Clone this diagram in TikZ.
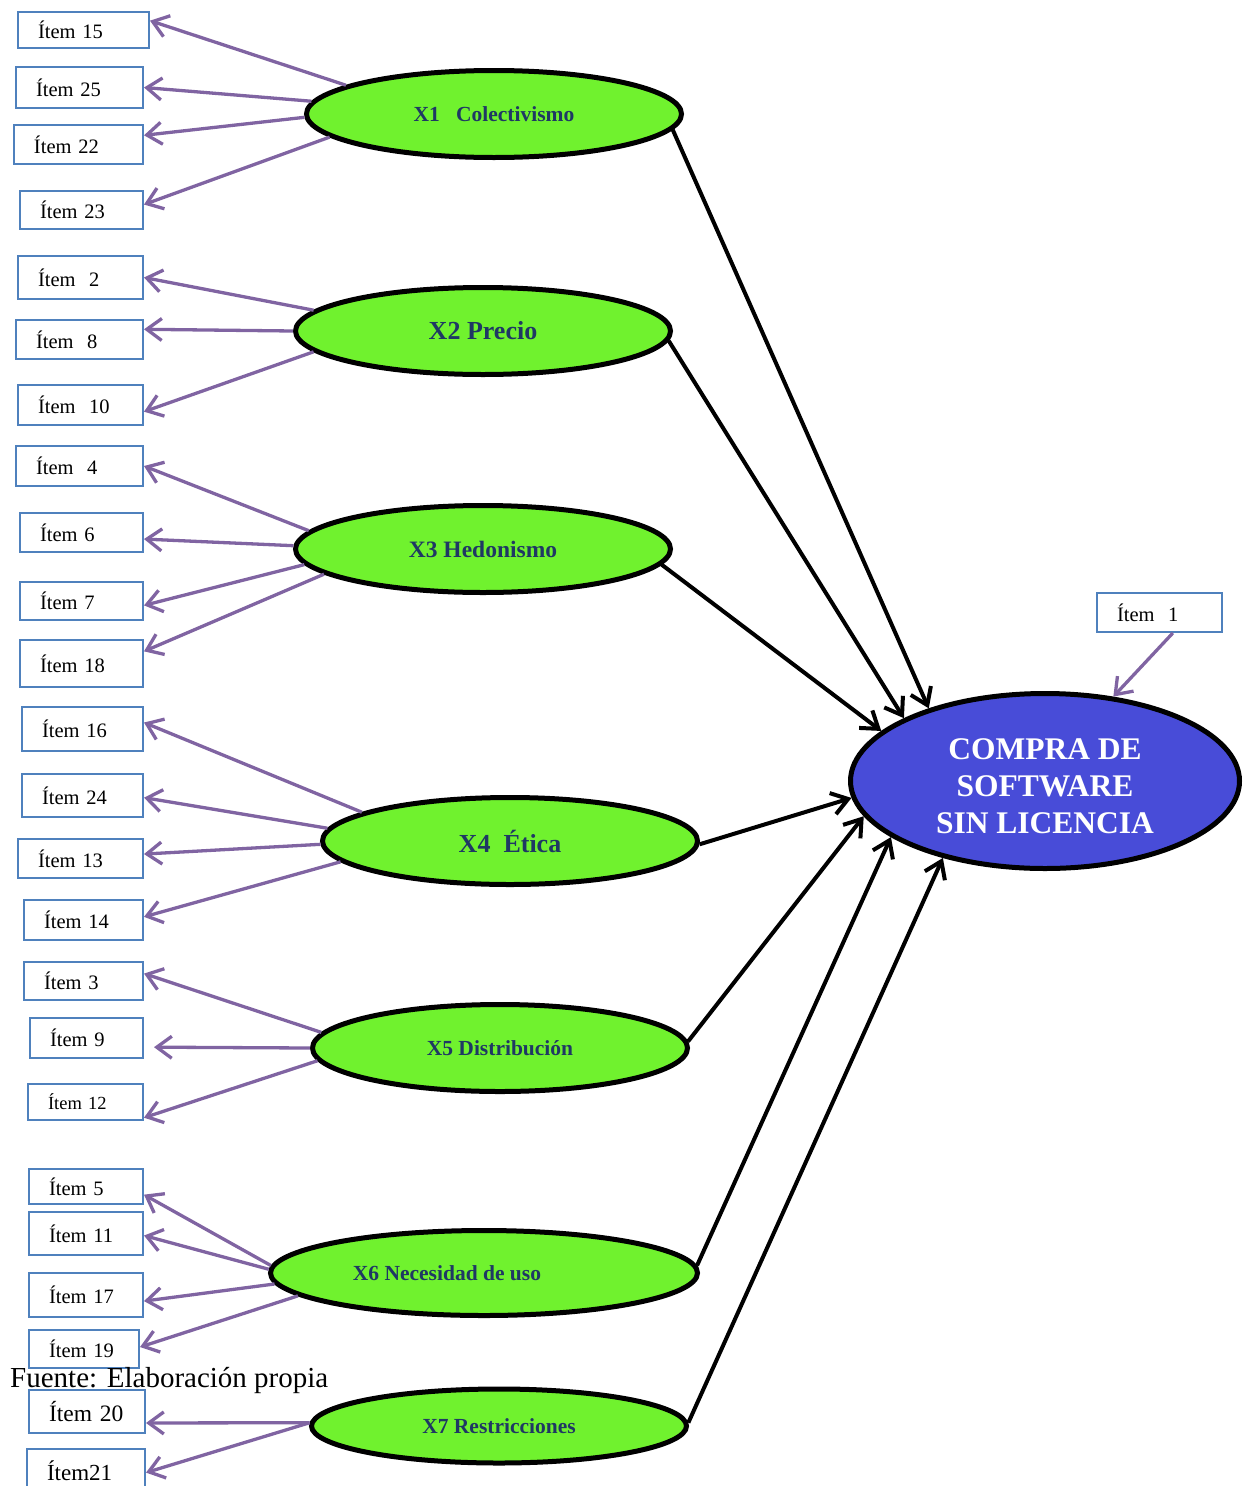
\documentclass[tikz,border=0pt]{standalone}
\usepackage{fontspec}
\setmainfont{Liberation Serif}
\usetikzlibrary{shapes.geometric,arrows.meta}
\definecolor{verdelat}{RGB}{112,242,46}
\definecolor{azulmain}{RGB}{72,76,216}
\definecolor{azultexto}{RGB}{31,56,100}
\definecolor{morado}{RGB}{128,100,162}
\definecolor{azulcaja}{RGB}{79,129,189}

\begin{document}
\begin{tikzpicture}[x={(1pt,0pt)}, y={(0pt,-1pt)},
    item/.style={draw=azulcaja, line width=2pt, fill=white, anchor=north west, inner xsep=20pt, inner ysep=0pt,
        text width=#1, align=left, minimum height=41pt, font=\fontsize{20.5}{24}\selectfont},
    item/.default=85pt,
    latente/.style={ellipse, draw=black, line width=5pt, fill=verdelat, minimum width=375pt, minimum height=87pt,
        inner sep=0pt, text=azultexto, font=\bfseries\fontsize{21.5}{24}\selectfont},
    carga/.style={morado, line width=3.3pt, -{Straight Barb[length=15pt,width=22pt]}},
    efecto/.style={black, line width=4pt, -{Straight Barb[length=16pt,width=22pt]}}]

    \useasboundingbox (0,0) rectangle (1245,1486);

    % Items de X1
    \node[item=91pt, minimum height=36pt] (i15) at (17,11) {Ítem 15};
    \node[item=87pt] (i25) at (15,66) {Ítem 25};
    \node[item=89pt, minimum height=39pt] (i22) at (13,124) {Ítem 22};
    \node[item=83pt, minimum height=38pt] (i23) at (19,190) {Ítem 23};

    % Items de X2
    \node[item=85pt, minimum height=43pt] (i2) at (17,255) {Ítem~~2};
    \node[item=87pt, minimum height=39pt] (i8) at (15,319) {Ítem~~8};
    \node[item=85pt, minimum height=40pt] (i10) at (17,384) {Ítem~~10};

    % Items de X3
    \node[item=87pt, minimum height=40pt] (i4) at (15,445) {Ítem~~4};
    \node[item=83pt, minimum height=39pt] (i6) at (19,512) {Ítem 6};
    \node[item=83pt, minimum height=38pt] (i7) at (19,581) {Ítem 7};
    \node[item=83pt, minimum height=47pt] (i18) at (19,639) {Ítem 18};

    % Items de X4
    \node[item=81pt, minimum height=44pt] (i16) at (21,706) {Ítem 16};
    \node[item=81pt, minimum height=43pt] (i24) at (21,773) {Ítem 24};
    \node[item=85pt, minimum height=39pt] (i13) at (17,838) {Ítem 13};
    \node[item=79pt, minimum height=40pt] (i14) at (23,899) {Ítem 14};

    % Items de X5
    \node[item=79pt, minimum height=38pt] (i3) at (23,961) {Ítem 3};
    \node[item=73pt, minimum height=40pt] (i9) at (29,1017) {Ítem 9};
    \node[item=75pt, minimum height=36pt, font=\fontsize{18.5}{22}\selectfont] (i12) at (27,1083) {Ítem 12};

    % Items de X6
    \node[item=74pt, minimum height=35pt] (i5) at (28,1168) {Ítem 5};
    \node[item=74pt, minimum height=43pt] (i11) at (28,1211) {Ítem 11};
    \node[item=74pt, minimum height=44pt] (i17) at (28,1272) {Ítem 17};
    \node[item=70pt, minimum height=38pt] (i19) at (28,1329) {Ítem 19};

    % Items de X7
    \node[item=76pt, minimum height=43pt, font=\fontsize{23.5}{27}\selectfont] (i20) at (28,1389) {Ítem 20};
    \node[item=78pt, minimum height=43pt, font=\fontsize{23}{27}\selectfont] (i21) at (26,1448) {Ítem21};

    % Item de la variable dependiente
    \node[item=85pt, minimum height=39pt] (i1) at (1096,592) {Ítem~~1};

    % Variables latentes
    \node[latente] (x1) at (494,114) {X1~~~Colectivismo};
    \node[latente, font=\bfseries\fontsize{26}{30}\selectfont] (x2) at (483,331) {X2 Precio};
    \node[latente, font=\bfseries\fontsize{23.5}{27}\selectfont] (x3) at (483,549) {X3 Hedonismo};
    \node[latente, font=\bfseries\fontsize{26}{30}\selectfont] (x4) at (510,841) {X4~~Ética};
    \node[latente] (x5) at (500,1048) {X5 Distribución};
    \node[latente, minimum width=427pt, minimum height=85pt] (x6) at (484,1273) {X6 Necesidad de uso\hspace*{74pt}};
    \node[latente, minimum height=74pt] (x7) at (499,1426) {X7 Restricciones};

    % Variable dependiente
    \node[latente, fill=azulmain, text=white, minimum width=389pt, minimum height=175pt, align=center,
        font=\bfseries\fontsize{31.5}{37}\selectfont] (y) at (1045,781) {\rule{0pt}{31pt}COMPRA DE\\SOFTWARE\\SIN LICENCIA};

    % Fuente
    \node[anchor=base west, inner sep=0pt, font=\fontsize{29}{32}\selectfont] (fuente) at (10,1387) {Fuente: Elaboración propia};

    % Cargas de X1
    \draw[carga] (x1.169) -- (i15.8);
    \draw[carga] (x1.176) -- (i25.east);
    \draw[carga] (x1.181) -- (i22.8);
    \draw[carga] (x1.188) -- (i23.5);

    % Cargas de X2
    \draw[carga] (x2.173) -- (i2.east);
    \draw[carga] (x2.180) -- (i8.9);
    \draw[carga] (x2.187) -- (i10.-6);

    % Cargas de X3
    \draw[carga] (x3.174) -- (i4.east);
    \draw[carga] (x3.179) -- (i6.-6);
    \draw[carga] (x3.185) -- (i7.-4);
    \draw[carga] (x3.189) -- (i18.11);

    % Cargas de X4
    \draw[carga] (x4.169) -- (i16.6);
    \draw[carga] (x4.176) -- (i24.-2);
    \draw[carga] (x4.181) -- (i13.4);
    \draw[carga] (x4.187) -- (i14.3);

    % Cargas de X5
    \draw[carga] (x5.175) -- (i3.7);
    \draw[carga, shorten >=10pt] (x5.180) -- (i9.-9);
    \draw[carga] (x5.184) -- (i12.-15);

    % Cargas de X6
    \draw[carga] (x6.178) -- (i5.-8);
    \draw[carga] (x6.179) -- (i11.-2);
    \draw[carga] (x6.183) -- (i17.-6);
    \draw[carga] (x6.187) -- (i19.2);

    % Cargas de X7
    \draw[carga] (x7.179) -- (i20.-11);
    \draw[carga] (x7.179) -- (i21.-2);

    % Carga de la dependiente
    \draw[carga] (i1.-57) -- (y.51);

    % Efectos sobre la compra
    \draw[efecto] (x1.-5) -- (y.148);
    \draw[efecto] (x2.-3) -- (y.156);
    \draw[efecto] (x3.-5.5) -- (y.163);
    \draw[efecto] (x4.-1.5) -- (y.185);
    \draw[efecto] (x5.2) -- (y.191);
    \draw[efecto] (x6.2) -- (y.200);
    \draw[efecto] (x7.1) -- (y.217);

\end{tikzpicture}
\end{document}
